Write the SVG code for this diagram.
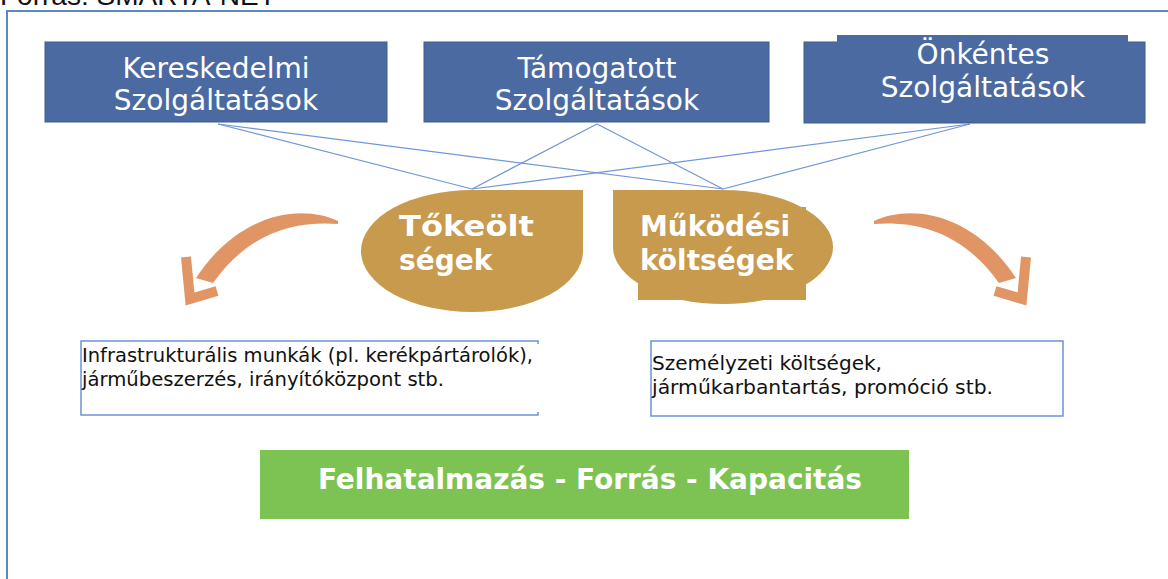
<svg xmlns="http://www.w3.org/2000/svg" width="1168" height="579" viewBox="0 0 1168 579">
<defs>
<style>
.frame{fill:none;stroke:#5b87c8;stroke-width:2}
.box{fill:#4a6aa1;stroke:#3d5b8f;stroke-width:1}
.boxfill{fill:#4a6aa1}
.bt{font-family:"DejaVu Sans",Verdana,sans-serif;font-size:28px;fill:#ffffff;text-anchor:middle}
.cost{fill:#c89a4e}
.ct{font-family:"DejaVu Sans",Verdana,sans-serif;font-size:28px;font-weight:bold;fill:#ffffff}
.conn{stroke:#7097d8;stroke-width:1.2;fill:none}
.note{fill:#ffffff;stroke:#6d92d6;stroke-width:1.5}
.nt{font-family:"DejaVu Sans",Verdana,sans-serif;font-size:19.5px;fill:#111111}
.green{fill:#7dc353}
.gt{font-family:"DejaVu Sans Condensed","DejaVu Sans",sans-serif;font-size:29px;font-weight:bold;fill:#ffffff}
.arr{fill:#de8c58;opacity:0.92}
.arrh{stroke:#de8c58;stroke-width:10;fill:none;opacity:0.92}
</style>
</defs>
<text x="0" y="5" font-family="Liberation Sans, Arial, sans-serif" font-size="28" fill="#111">Forrás: SMARTA-NET</text>
<rect class="frame" x="7" y="11" width="1200" height="600"/>

<g id="connectors">
<line class="conn" x1="218" y1="124" x2="472" y2="189"/>
<line class="conn" x1="218" y1="124" x2="723" y2="189"/>
<line class="conn" x1="597" y1="124" x2="472" y2="189"/>
<line class="conn" x1="597" y1="124" x2="723" y2="189"/>
<line class="conn" x1="970" y1="124" x2="472" y2="189"/>
<line class="conn" x1="970" y1="124" x2="723" y2="189"/>
</g>

<g id="kereskedelmi">
<rect class="box" x="45" y="42" width="342" height="80"/>
<text class="bt" x="216" y="78">Kereskedelmi</text>
<text class="bt" x="216" y="110">Szolgáltatások</text>
</g>
<g id="tamogatott">
<rect class="box" x="424" y="42" width="345" height="80"/>
<text class="bt" x="597" y="78">Támogatott</text>
<text class="bt" x="597" y="110">Szolgáltatások</text>
</g>
<g id="onkentes">
<rect class="box" x="804" y="42" width="341" height="81"/>
<rect class="boxfill" x="837" y="35" width="291" height="20"/>
<text class="bt" x="983" y="64">Önkéntes</text>
<text class="bt" x="983" y="97">Szolgáltatások</text>
</g>

<g id="tokekoltsegek">
<path class="cost" d="M583 190 L583 251 A111 61 0 0 1 472 312 A111 61 0 0 1 361 251 A111 61 0 0 1 472 190 Z"/>
<text class="ct" x="399" y="236" textLength="135" lengthAdjust="spacingAndGlyphs">Tőkeölt</text>
<text class="ct" x="399" y="270">ségek</text>
</g>
<g id="mukodesi">
<path class="cost" d="M613 190 L723 190 A110 57 0 0 1 833 247 A110 57 0 0 1 723 304 A110 57 0 0 1 613 247 Z"/>
<rect class="cost" x="638" y="207" width="168" height="93"/>
<text class="ct" x="640" y="236">Működési</text>
<text class="ct" x="640" y="270">költségek</text>
</g>

<g id="arrow-left">
<path class="arr" d="M338 221 C300 203 238 214 196 278 L213 283 C250 231 296 221 338 224 Z"/>
<path class="arrh" d="M186 257 L190 299 L217 291"/>
</g>
<g id="arrow-right">
<path class="arr" d="M874 221 C912 203 974 214 1016 278 L999 283 C962 231 916 221 874 224 Z"/>
<path class="arrh" d="M1026 257 L1022 299 L995 291"/>
</g>

<g id="infra">
<path class="note" fill="none" d="M538 344 L538 341 L81 341 L81 415 L538 415 L538 412"/>
<text class="nt" x="82" y="362" textLength="451" lengthAdjust="spacingAndGlyphs">Infrastrukturális munkák (pl. kerékpártárolók),</text>
<text class="nt" x="82" y="386" textLength="362" lengthAdjust="spacingAndGlyphs">járműbeszerzés, irányítóközpont stb.</text>
</g>
<g id="szemelyzeti">
<rect class="note" x="651" y="341" width="412" height="75"/>
<text class="nt" x="652" y="370" textLength="230" lengthAdjust="spacingAndGlyphs">Személyzeti költségek,</text>
<text class="nt" x="652" y="394" textLength="341" lengthAdjust="spacingAndGlyphs">járműkarbantartás, promóció stb.</text>
</g>

<g id="felhatalmazas">
<rect class="green" x="260" y="450" width="649" height="69"/>
<text class="gt" x="318" y="489" textLength="544" lengthAdjust="spacingAndGlyphs">Felhatalmazás - Forrás - Kapacitás</text>
</g>
</svg>
